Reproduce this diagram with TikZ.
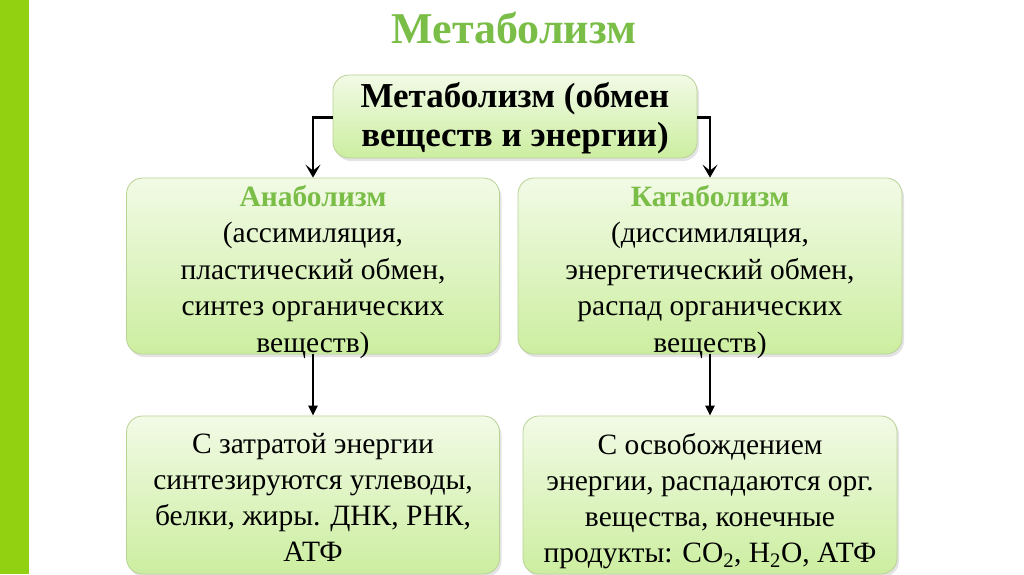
\documentclass[tikz,border=0pt]{standalone}
\usepackage{fontspec}
\setmainfont{Liberation Serif}
\usetikzlibrary{arrows.meta,shadows,calc}
\definecolor{barG}{RGB}{146,208,18}
\definecolor{titleG}{RGB}{122,190,72}
\definecolor{boxTop}{RGB}{242,250,230}
\definecolor{boxBot}{RGB}{204,238,160}
\definecolor{boxLine}{RGB}{185,210,150}
\tikzset{
  gbox/.style={draw=boxLine, line width=0.8pt, rounded corners=16pt, top color=boxTop, bottom color=boxBot,
     drop shadow={opacity=0.22, shadow xshift=2pt, shadow yshift=-3pt}, inner sep=0pt},
  btext/.style={align=center, inner sep=0pt, anchor=north, font=\fontsize{29.5}{36.5}\selectfont},
  conn/.style={line width=2.8pt, -{Stealth[length=13pt,width=15pt,inset=6pt]}},
  connv/.style={line width=2.6pt, -{Triangle[length=10pt,width=9pt]}}
}
\begin{document}
\begin{tikzpicture}[x=1pt,y=-1pt]
\useasboundingbox (0,0) rectangle (1024,574);
\fill[white] (0,0) rectangle (1024,574);
\fill[barG] (0,0) rectangle (29,574);
\node[font=\fontsize{44}{48}\selectfont\bfseries, text=titleG, anchor=base, inner sep=0pt] (title) at (514,43) {Метаболизм};
\node[gbox, minimum width=364pt, minimum height=83pt] (top) at (515,116.5) {};
\node[btext, font=\fontsize{35}{39}\selectfont\bfseries] (topT) at (515,82) {Метаболизм (обмен\\веществ и энергии)};
\node[gbox, minimum width=373pt, minimum height=176pt] (ana) at (313,266) {};
\node[gbox, minimum width=384pt, minimum height=176pt] (kat) at (710,266) {};
\node[btext] (anaT) at (313,185) {\textcolor{titleG}{\bfseries Анаболизм}\\(ассимиляция,\\пластический обмен,\\синтез органических\\веществ)};
\node[btext] (katT) at (710,185) {\textcolor{titleG}{\bfseries Катаболизм}\\(диссимиляция,\\энергетический обмен,\\распад органических\\веществ)};
\node[gbox, minimum width=373pt, minimum height=158pt] (anaB) at (313,495) {};
\node[gbox, minimum width=374pt, minimum height=158pt] (katB) at (710,495) {};
\node[btext, font=\fontsize{29.5}{36}\selectfont] (anaBT) at (313,433) {С затратой энергии\\синтезируются углеводы,\\белки, жиры. ДНК, РНК,\\АТФ};
\node[btext, font=\fontsize{29.5}{36}\selectfont] (katBT) at (710,433) {С освобождением\\энергии, распадаются орг.\\вещества, конечные\\продукты: CO\textsubscript{2}, H\textsubscript{2}O, АТФ};
\draw[conn] ($(top.west)+(0,1)$) -| (ana.north);
\draw[conn] ($(top.east)+(0,1)$) -| (kat.north);
\draw[connv] (ana.south) -- (anaB.north);
\draw[connv] (kat.south) -- (katB.north);
\end{tikzpicture}
\end{document}
